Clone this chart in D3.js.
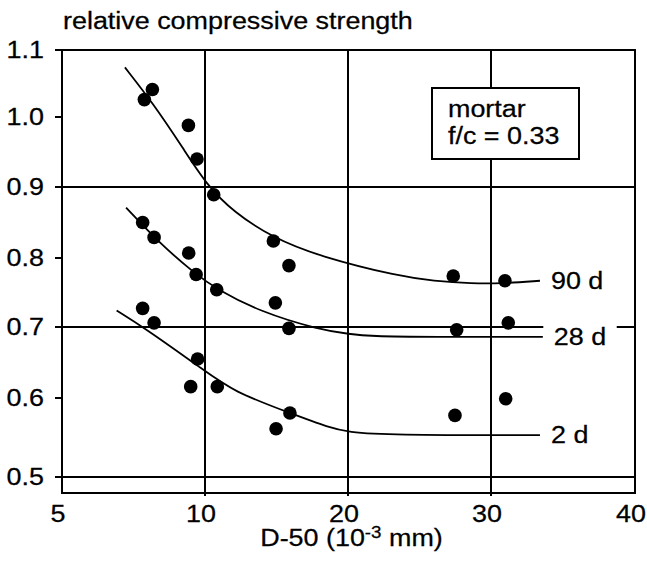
<!DOCTYPE html>
<html>
<head>
<meta charset="utf-8">
<script src="https://cdn.jsdelivr.net/npm/d3@7"></script>
<style>
  body { margin: 0; background: #fff; }
  text { font-family: "Liberation Sans", Arial, Helvetica, sans-serif; fill: #000; stroke: #000; stroke-width: 0.25px; }
</style>
</head>
<body>
<svg id="chart" width="647" height="561"></svg>
<script>
// axis ticks
var xTicks = [5, 10, 20, 30, 40];
var yTicks = [0.5, 0.6, 0.7, 0.8, 0.9, 1.0, 1.1];
var xGrid = [10, 20, 30];
var yGrid = [0.5, 0.7, 0.9];

// measured points [D-50, relative strength]
var pts90 = [[7.88,1.026],[8.16,1.041],[9.42,0.988],[9.72,0.940],[10.61,0.889],[14.78,0.824],[15.87,0.789],[27.36,0.774],[30.97,0.767]];
var pts28 = [[7.82,0.850],[8.22,0.829],[9.43,0.807],[9.69,0.776],[10.82,0.754],[14.92,0.735],[15.87,0.698],[27.6,0.696],[31.2,0.706]];
var pts2  = [[7.82,0.727],[8.22,0.706],[9.50,0.616],[9.74,0.655],[10.86,0.616],[14.97,0.561],[15.94,0.581],[27.48,0.578],[31.02,0.599]];

// fitted curves
var fit90 = [[7.20,1.074],[8.19,1.020],[9.24,0.955],[10.12,0.903],[11.98,0.865],[14.78,0.828],[18.04,0.802],[23.64,0.773],[25.94,0.767],[28.74,0.763],[30.62,0.763],[33.4,0.767]];
var fit28 = [[7.24,0.871],[8.43,0.820],[9.69,0.776],[10.82,0.755],[13.85,0.722],[18.04,0.696],[20.14,0.690],[21.54,0.687],[25.73,0.686],[33.6,0.686]];
var fit2  = [[6.91,0.724],[7.84,0.700],[9.97,0.639],[11.98,0.609],[15.94,0.581],[18.74,0.562],[20.0,0.557],[22.71,0.553],[33.4,0.553]];

var seriesNames = ['90 d', '28 d', '2 d'];
var boxLines = ['mortar', 'f/c = 0.33'];
var yTitle = 'relative compressive strength';

var svg = d3.select('#chart');
var fs = 23, sx = 1.17;   // glyphs in the scan are a bit wide
var plotBottom = 493;

// the original axes are not evenly spaced, so use polylinear scales
var x = d3.scaleLinear().domain(xTicks).range([62, 205, 348, 491, 635]);
var y = d3.scaleLinear().domain(yTicks).range([477, 398, 327, 258, 187, 117, 50]);

function txt(g, px, py, s, anchor) {
  return g.append('text')
    .attr('transform', 'translate(' + px + ',' + py + ') scale(' + sx + ',1)')
    .attr('text-anchor', anchor || 'start')
    .style('font-size', fs + 'px')
    .text(s);
}

// grid
svg.selectAll('line.hgrid')
  .data(yGrid)
  .enter().append('line')
    .classed('hgrid', true)
    .attr('x1', x(5)).attr('x2', x(40))
    .attr('y1', function(d) { return y(d); })
    .attr('y2', function(d) { return y(d); })
    .style('stroke', '#000').style('stroke-width', 2);
svg.selectAll('line.vgrid')
  .data(xGrid)
  .enter().append('line')
    .classed('vgrid', true)
    .attr('x1', function(d) { return x(d); })
    .attr('x2', function(d) { return x(d); })
    .attr('y1', y(1.1)).attr('y2', plotBottom + 3)
    .style('stroke', '#000').style('stroke-width', 2);

// frame
svg.append('rect')
  .attr('x', x(5)).attr('y', y(1.1))
  .attr('width', x(40) - x(5)).attr('height', plotBottom - y(1.1))
  .style('fill', 'none').style('stroke', '#000').style('stroke-width', 2);

// y ticks + labels
svg.selectAll('line.ytick')
  .data(yTicks)
  .enter().append('line')
    .classed('ytick', true)
    .attr('x1', x(5) - 7).attr('x2', x(5))
    .attr('y1', function(d) { return y(d); })
    .attr('y2', function(d) { return y(d); })
    .style('stroke', '#000').style('stroke-width', 2);
yTicks.forEach(function(d) {
  txt(svg, 44, y(d), d3.format('.1f')(d), 'end').attr('dy', '0.36em');
});
xTicks.forEach(function(d) {
  txt(svg, x(d) - 4, 522, d, 'middle');
});

// axis titles
txt(svg, 63, 29, yTitle);
var xt = txt(svg, 351.5, 546, 'D-50 (10', 'middle');
xt.append('tspan').attr('dy', -8).style('font-size', '16px').text('-3');
xt.append('tspan').attr('dy', 8).text(' mm)');

// curves
var line = d3.line()
  .x(function(d) { return x(d[0]); })
  .y(function(d) { return y(d[1]); })
  .curve(d3.curveBasis);
var fits = [fit90, fit28, fit2];
svg.selectAll('path.fit')
  .data(fits)
  .enter().append('path')
    .classed('fit', true)
    .attr('d', line)
    .style('fill', 'none')
    .style('stroke', '#000')
    .style('stroke-width', 1.8);

// points
var allPts = pts90.concat(pts28, pts2);
svg.selectAll('circle')
  .data(allPts)
  .enter().append('circle')
    .attr('cx', function(d) { return x(d[0]); })
    .attr('cy', function(d) { return y(d[1]); })
    .attr('r', 6.8)
    .style('fill', '#000');

// series labels, white behind so the 0.7 gridline is broken
fits.forEach(function(f, i) {
  var last = f[f.length - 1];
  var g = svg.append('g')
    .attr('transform', 'translate(' + (x(last[0]) + 11) + ',' + y(last[1]) + ') scale(' + sx + ',1)');
  var bg = g.append('rect').style('fill', '#fff');
  var t = g.append('text')
    .attr('dy', '0.36em')
    .style('font-size', fs + 'px')
    .text(seriesNames[i]);
  var bb = t.node().getBBox();
  bg.attr('x', bb.x - 9).attr('y', bb.y - 1)
    .attr('width', bb.width + 18).attr('height', bb.height + 2);
});

// annotation box
svg.append('rect')
  .attr('x', 432).attr('y', 88)
  .attr('width', 147).attr('height', 71)
  .style('fill', '#fff').style('stroke', '#000').style('stroke-width', 2);
boxLines.forEach(function(s, i) {
  txt(svg, 448, 117 + i * 27, s);
});
</script>
</body>
</html>
